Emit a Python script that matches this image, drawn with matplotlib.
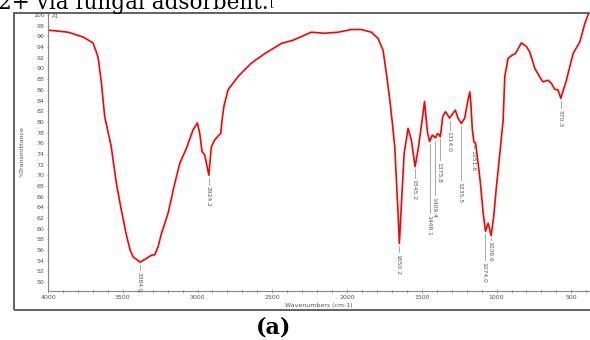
import numpy as np
import matplotlib
matplotlib.use("Agg")
import matplotlib.pyplot as plt
from matplotlib.patches import Rectangle
from matplotlib.ticker import MultipleLocator

# FTIR spectrum (wavenumber cm-1, %T)
wavenumber = [4000, 3866, 3766, 3699, 3666, 3643, 3621, 3577, 3543, 3510,
              3476, 3451, 3431, 3384, 3342, 3309, 3286, 3264, 3242, 3197,
              3152, 3119, 3075, 3030, 3001, 2985, 2970, 2952, 2924.2, 2908,
              2885, 2858, 2845, 2836, 2823, 2796, 2729, 2640, 2550, 2439,
              2361, 2239, 2149, 2060, 1971, 1904, 1837, 1792, 1759, 1737,
              1714, 1699, 1681, 1662, 1650.2, 1636, 1618, 1592, 1570, 1545.2,
              1522, 1498, 1482, 1462, 1448.1, 1430, 1420, 1409.4, 1395, 1385,
              1375.8, 1360, 1342, 1314, 1291, 1276, 1258, 1235.5, 1213, 1191,
              1179, 1172, 1162, 1151.6, 1140, 1120, 1108, 1090, 1074, 1056,
              1036.6, 1020, 1001, 978, 956, 945, 923, 896, 874, 834,
              800, 778, 744, 711, 689, 656, 633, 611, 589, 570.3,
              533, 488, 443, 410, 385]
transmittance = [97.2, 96.8, 95.9, 94.8, 92.2, 87.3, 81.0, 75.3, 68.5, 63.5,
                 58.8, 56.0, 54.7, 53.7, 54.4, 55.0, 55.1, 56.6, 59.0, 62.9,
                 68.5, 72.2, 75.0, 78.5, 79.8, 77.8, 74.4, 73.8, 70.0, 75.3,
                 76.6, 77.5, 77.8, 80.3, 83.0, 86.0, 88.5, 91.0, 92.8, 94.7,
                 95.3, 96.8, 96.6, 96.8, 97.3, 97.3, 96.8, 95.6, 93.4, 89.1,
                 84.1, 80.3, 75.3, 64.7, 57.2, 64.8, 74.1, 78.8, 76.6, 71.6,
                 75.3, 80.3, 83.8, 78.0, 76.3, 77.5, 77.3, 77.0, 77.8, 77.6,
                 77.2, 81.0, 81.9, 80.7, 81.6, 82.2, 80.7, 79.7, 80.7, 84.1,
                 85.6, 83.5, 78.5, 76.2, 76.0, 71.5, 68.5, 63.0, 59.5, 61.0,
                 58.7, 62.0, 67.8, 74.1, 80.3, 88.5, 91.9, 92.5, 92.8, 94.8,
                 94.1, 93.1, 90.0, 88.4, 87.5, 87.8, 87.2, 86.1, 86.0, 84.4,
                 87.8, 92.8, 95.0, 98.4, 100.3]

# peak labels: position, value at the lower end of the leader line
peak_wn = [3384.0, 2924.2, 1650.2, 1545.2, 1448.1, 1409.4, 1375.8,
           1314.0, 1235.5, 1151.6, 1074.0, 1036.6, 570.3]
peak_text = ["3384.0", "2924.2", "1650.2", "1545.2", "1448.1", "1409.4", "1375.8",
             "1314.0", "1235.5", "1151.6", "1074.0", "1036.6", "570.3"]
leader_end = [52.2, 68.2, 55.6, 69.5, 62.9, 66.3, 72.8,
              78.5, 69.1, 75.1, 54.1, 57.9, 82.6]

fig = plt.figure(figsize=(5.9, 3.4), dpi=100)

# caption text cut off at the top and the (a) label underneath
fig.text(-0.004, 0.974, "2+ via fungal adsorbent.", fontsize=15.5,
         family="DejaVu Serif", va="baseline", ha="left", color="black")
fig.text(0.458, 0.985, "[", fontsize=8, family="DejaVu Serif", va="baseline", color="black")
fig.text(0.463, 0.036, "(a)", fontsize=16, family="DejaVu Serif", weight="bold",
         ha="center", va="center", color="black")

# frame around the spectrum panel
fig.add_artist(Rectangle((0.0237, 0.0882), 1.0, 0.8736, transform=fig.transFigure,
                         fill=False, edgecolor="#555555", lw=1.3, clip_on=False))

ax = fig.add_axes([0.0814, 0.1441, 0.9186, 0.8177])
ax.plot(wavenumber, transmittance, color="#ff0000", lw=1.2)

ax.set_xlim(4000, 375)
ax.set_ylim(48.3, 100.4)
ax.xaxis.set_major_locator(MultipleLocator(500))
ax.xaxis.set_minor_locator(MultipleLocator(100))
ax.yaxis.set_major_locator(MultipleLocator(2))

for s in ["top", "right"]:
    ax.spines[s].set_visible(False)
for s in ["left", "bottom"]:
    ax.spines[s].set_color("#888888")
    ax.spines[s].set_linewidth(0.8)

ax.tick_params(axis="both", labelsize=4.5, labelcolor="#555555", color="#888888",
               width=0.5)
ax.tick_params(axis="y", which="major", length=2, pad=1.5, direction="inout")
ax.tick_params(axis="x", which="major", length=2.5, pad=1.5, direction="inout")
ax.tick_params(axis="x", which="minor", length=1.5, direction="inout", width=0.5)

ax.set_xlabel("Wavenumbers (cm-1)", fontsize=4.5, color="#555555", labelpad=2)
ax.set_ylabel("%Transmittance", fontsize=4.5, color="#555555", labelpad=6)
ax.text(3975, 99.8, "A1", fontsize=4, color="#555555", va="center", ha="left")

curve = np.interp(peak_wn, wavenumber[::-1], transmittance[::-1])
for wn, txt, end, top in zip(peak_wn, peak_text, leader_end, curve):
    ax.plot([wn, wn], [top - 0.5, end], color="#999999", lw=0.6)
    ax.text(wn + 8, end - 0.3, txt, rotation=270, fontsize=4.3, color="#555555",
            ha="center", va="top")

fig.savefig("out.png", dpi=100)
